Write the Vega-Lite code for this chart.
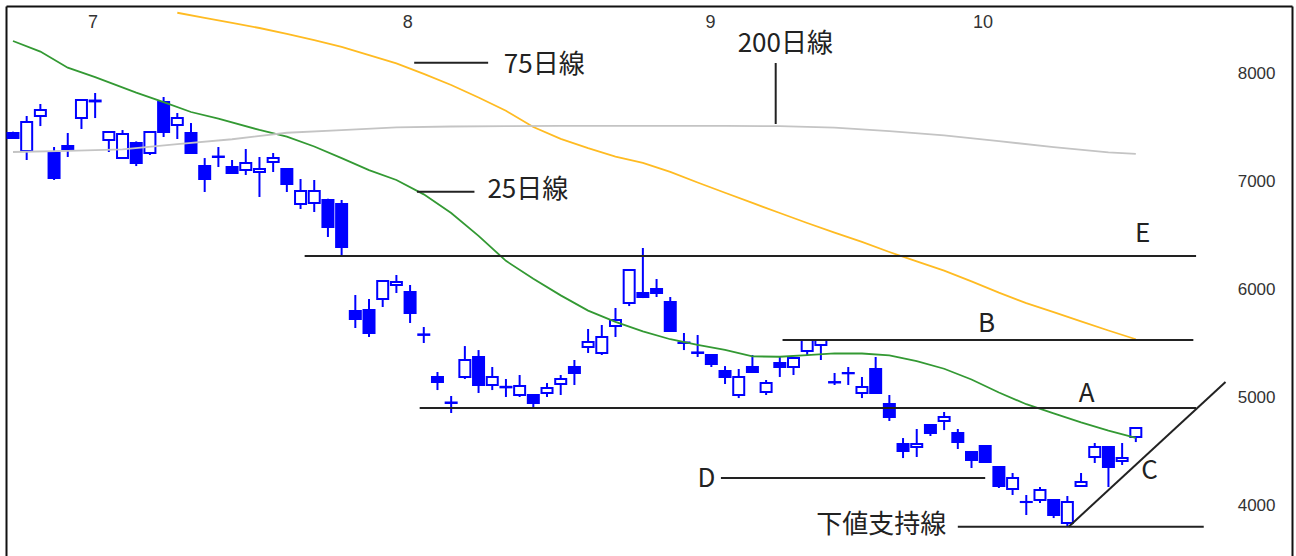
{
  "$schema": "https://vega.github.io/schema/vega-lite/v6.json",
  "width": 1286,
  "height": 550,
  "autosize": "none",
  "padding": {"left": 6, "top": 6, "right": 4, "bottom": 0},
  "background": "white",
  "config": {"view": {"stroke": null}, "axis": {"grid": false}},
  "datasets": {
    "candles": [
      {"i":0,"o":7448,"h":7460,"l":7395,"c":7401},
      {"i":1,"o":7281,"h":7605,"l":7198,"c":7550},
      {"i":2,"o":7605,"h":7716,"l":7512,"c":7660},
      {"i":3,"o":7263,"h":7318,"l":7013,"c":7031},
      {"i":4,"o":7327,"h":7448,"l":7226,"c":7300},
      {"i":5,"o":7586,"h":7760,"l":7485,"c":7753},
      {"i":6,"o":7740,"h":7818,"l":7586,"c":7748},
      {"i":7,"o":7383,"h":7465,"l":7272,"c":7457},
      {"i":8,"o":7216,"h":7475,"l":7210,"c":7438},
      {"i":9,"o":7355,"h":7370,"l":7142,"c":7170},
      {"i":10,"o":7263,"h":7465,"l":7244,"c":7457},
      {"i":11,"o":7734,"h":7781,"l":7411,"c":7457},
      {"i":12,"o":7522,"h":7633,"l":7392,"c":7586},
      {"i":13,"o":7448,"h":7540,"l":7255,"c":7263},
      {"i":14,"o":7142,"h":7216,"l":6902,"c":7022},
      {"i":15,"o":7230,"h":7318,"l":7133,"c":7226},
      {"i":16,"o":7133,"h":7198,"l":7070,"c":7078},
      {"i":17,"o":7105,"h":7300,"l":7059,"c":7170},
      {"i":18,"o":7087,"h":7226,"l":6856,"c":7115},
      {"i":19,"o":7179,"h":7263,"l":7087,"c":7216},
      {"i":20,"o":7115,"h":7120,"l":6902,"c":6976},
      {"i":21,"o":6791,"h":7022,"l":6745,"c":6911},
      {"i":22,"o":6800,"h":7013,"l":6717,"c":6911},
      {"i":23,"o":6828,"h":6840,"l":6486,"c":6578},
      {"i":24,"o":6791,"h":6828,"l":6319,"c":6393},
      {"i":25,"o":5801,"h":5949,"l":5644,"c":5727},
      {"i":26,"o":5810,"h":5912,"l":5561,"c":5598},
      {"i":27,"o":5912,"h":6085,"l":5838,"c":6079},
      {"i":28,"o":6042,"h":6134,"l":5968,"c":6070},
      {"i":29,"o":5977,"h":6042,"l":5690,"c":5783},
      {"i":30,"o":5585,"h":5653,"l":5505,"c":5580},
      {"i":31,"o":5191,"h":5237,"l":5070,"c":5144},
      {"i":32,"o":4955,"h":5015,"l":4858,"c":4950},
      {"i":33,"o":5191,"h":5477,"l":5172,"c":5348},
      {"i":34,"o":5376,"h":5440,"l":5043,"c":5117},
      {"i":35,"o":5117,"h":5283,"l":5070,"c":5191},
      {"i":36,"o":5095,"h":5172,"l":5006,"c":5100},
      {"i":37,"o":5024,"h":5209,"l":5006,"c":5107},
      {"i":38,"o":5024,"h":5030,"l":4913,"c":4950},
      {"i":39,"o":5043,"h":5135,"l":5006,"c":5089},
      {"i":40,"o":5126,"h":5209,"l":5024,"c":5172},
      {"i":41,"o":5283,"h":5348,"l":5117,"c":5228},
      {"i":42,"o":5468,"h":5635,"l":5413,"c":5514},
      {"i":43,"o":5413,"h":5672,"l":5394,"c":5561},
      {"i":44,"o":5662,"h":5829,"l":5561,"c":5718},
      {"i":45,"o":5875,"h":6185,"l":5847,"c":6180},
      {"i":46,"o":5968,"h":6384,"l":5921,"c":5931},
      {"i":47,"o":6005,"h":6097,"l":5931,"c":5968},
      {"i":48,"o":5884,"h":5931,"l":5610,"c":5616},
      {"i":49,"o":5510,"h":5598,"l":5440,"c":5505},
      {"i":50,"o":5418,"h":5579,"l":5376,"c":5413},
      {"i":51,"o":5394,"h":5400,"l":5283,"c":5311},
      {"i":52,"o":5246,"h":5292,"l":5126,"c":5191},
      {"i":53,"o":5024,"h":5265,"l":4996,"c":5191},
      {"i":54,"o":5283,"h":5394,"l":5228,"c":5237},
      {"i":55,"o":5052,"h":5163,"l":5024,"c":5135},
      {"i":56,"o":5320,"h":5376,"l":5191,"c":5283},
      {"i":57,"o":5283,"h":5372,"l":5209,"c":5366},
      {"i":58,"o":5431,"h":5540,"l":5385,"c":5533},
      {"i":59,"o":5487,"h":5540,"l":5348,"c":5533},
      {"i":60,"o":5140,"h":5228,"l":5117,"c":5144},
      {"i":61,"o":5225,"h":5283,"l":5117,"c":5228},
      {"i":62,"o":5043,"h":5191,"l":4996,"c":5098},
      {"i":63,"o":5265,"h":5376,"l":5040,"c":5043},
      {"i":64,"o":4941,"h":5024,"l":4784,"c":4821},
      {"i":65,"o":4571,"h":4626,"l":4441,"c":4506},
      {"i":66,"o":4543,"h":4710,"l":4451,"c":4571},
      {"i":67,"o":4747,"h":4756,"l":4645,"c":4673},
      {"i":68,"o":4784,"h":4867,"l":4700,"c":4821},
      {"i":69,"o":4673,"h":4710,"l":4525,"c":4589},
      {"i":70,"o":4497,"h":4505,"l":4349,"c":4423},
      {"i":71,"o":4552,"h":4560,"l":4395,"c":4404},
      {"i":72,"o":4358,"h":4365,"l":4164,"c":4182},
      {"i":73,"o":4155,"h":4303,"l":4099,"c":4256},
      {"i":74,"o":4035,"h":4099,"l":3914,"c":4034},
      {"i":75,"o":4053,"h":4173,"l":4025,"c":4145},
      {"i":76,"o":4053,"h":4060,"l":3886,"c":3914},
      {"i":77,"o":3840,"h":4090,"l":3803,"c":4034},
      {"i":78,"o":4182,"h":4303,"l":4173,"c":4219},
      {"i":79,"o":4451,"h":4580,"l":4395,"c":4543},
      {"i":80,"o":4543,"h":4550,"l":4173,"c":4358},
      {"i":81,"o":4414,"h":4580,"l":4377,"c":4441},
      {"i":82,"o":4636,"h":4725,"l":4589,"c":4719}
    ],
    "ma": [
      {"s":"25","i":0,"v":8299},{"s":"25","i":2,"v":8201},{"s":"25","i":4,"v":8052},{"s":"25","i":6,"v":7964},
      {"s":"25","i":9,"v":7821},{"s":"25","i":11,"v":7734},{"s":"25","i":13,"v":7642},{"s":"25","i":15,"v":7580},
      {"s":"25","i":18,"v":7476},{"s":"25","i":20,"v":7415},{"s":"25","i":22,"v":7323},{"s":"25","i":24,"v":7215},
      {"s":"25","i":26,"v":7105},{"s":"25","i":28,"v":7013},{"s":"25","i":30,"v":6880},{"s":"25","i":32,"v":6708},
      {"s":"25","i":34,"v":6496},{"s":"25","i":36,"v":6265},{"s":"25","i":38,"v":6100},{"s":"25","i":40,"v":5946},
      {"s":"25","i":42,"v":5805},{"s":"25","i":44,"v":5700},{"s":"25","i":46,"v":5613},{"s":"25","i":48,"v":5540},
      {"s":"25","i":50,"v":5487},{"s":"25","i":52,"v":5442},{"s":"25","i":54,"v":5382},{"s":"25","i":56,"v":5378},
      {"s":"25","i":58,"v":5394},{"s":"25","i":60,"v":5410},{"s":"25","i":62,"v":5408},{"s":"25","i":64,"v":5390},
      {"s":"25","i":66,"v":5338},{"s":"25","i":68,"v":5267},{"s":"25","i":70,"v":5168},{"s":"25","i":72,"v":5047},
      {"s":"25","i":74,"v":4939},{"s":"25","i":76,"v":4855},{"s":"25","i":78,"v":4771},{"s":"25","i":80,"v":4694},
      {"s":"25","i":82,"v":4627},
      {"s":"75","i":12,"v":8560},{"s":"75","i":14,"v":8513},{"s":"75","i":16,"v":8466},{"s":"75","i":18,"v":8419},
      {"s":"75","i":20,"v":8365},{"s":"75","i":22,"v":8307},{"s":"75","i":24,"v":8245},{"s":"75","i":26,"v":8169},
      {"s":"75","i":28,"v":8092},{"s":"75","i":30,"v":7995},{"s":"75","i":32,"v":7892},{"s":"75","i":34,"v":7776},
      {"s":"75","i":36,"v":7653},{"s":"75","i":38,"v":7503},{"s":"75","i":40,"v":7393},{"s":"75","i":42,"v":7307},
      {"s":"75","i":44,"v":7230},{"s":"75","i":46,"v":7172},{"s":"75","i":48,"v":7088},{"s":"75","i":50,"v":6990},
      {"s":"75","i":52,"v":6895},{"s":"75","i":54,"v":6801},{"s":"75","i":56,"v":6708},{"s":"75","i":58,"v":6615},
      {"s":"75","i":60,"v":6527},{"s":"75","i":62,"v":6440},{"s":"75","i":64,"v":6347},{"s":"75","i":66,"v":6260},
      {"s":"75","i":68,"v":6174},{"s":"75","i":70,"v":6075},{"s":"75","i":72,"v":5971},{"s":"75","i":74,"v":5874},
      {"s":"75","i":76,"v":5790},{"s":"75","i":78,"v":5706},{"s":"75","i":80,"v":5621},{"s":"75","i":82,"v":5540},
      {"s":"200","i":0,"v":7272},{"s":"200","i":4,"v":7283},{"s":"200","i":8,"v":7297},{"s":"200","i":12,"v":7345},
      {"s":"200","i":16,"v":7390},{"s":"200","i":20,"v":7450},{"s":"200","i":24,"v":7475},{"s":"200","i":28,"v":7500},
      {"s":"200","i":32,"v":7508},{"s":"200","i":36,"v":7512},{"s":"200","i":40,"v":7514},{"s":"200","i":44,"v":7514},
      {"s":"200","i":48,"v":7514},{"s":"200","i":52,"v":7514},{"s":"200","i":56,"v":7511},{"s":"200","i":60,"v":7497},
      {"s":"200","i":64,"v":7465},{"s":"200","i":68,"v":7425},{"s":"200","i":72,"v":7372},{"s":"200","i":76,"v":7318},
      {"s":"200","i":80,"v":7268},{"s":"200","i":82,"v":7254}
    ],
    "rules": [
      {"name":"E","i":21.3,"x2":86.4,"y":6310,"y2":6310},
      {"name":"B","i":56.2,"x2":86.2,"y":5533,"y2":5533},
      {"name":"A","i":29.7,"x2":86.4,"y":4904,"y2":4904},
      {"name":"D","i":51.7,"x2":71.0,"y":4257,"y2":4257},
      {"name":"support","i":69.0,"x2":86.96,"y":3806,"y2":3806},
      {"name":"C","i":77.1,"x2":88.55,"y":3806,"y2":5145},
      {"name":"75lead","i":29.3,"x2":34.7,"y":8098,"y2":8098},
      {"name":"25lead","i":29.5,"x2":33.7,"y":6905,"y2":6905},
      {"name":"200lead","i":55.7,"x2":55.7,"y":8095,"y2":7531}
    ],
    "labels": [
      {"t":"75日線","i":38.8,"v":8077},
      {"t":"25日線","i":37.6,"v":6920},
      {"t":"200日線","i":56.4,"v":8271},
      {"t":"E","i":82.5,"v":6513},
      {"t":"B","i":71.1,"v":5681},
      {"t":"A","i":78.4,"v":5038},
      {"t":"C","i":83.0,"v":4321},
      {"t":"D","i":50.65,"v":4247},
      {"t":"下値支持線","i":63.4,"v":3822}
    ]
  },
  "encoding": {
    "x": {"field": "i", "type": "quantitative",
      "scale": {"domain": [-0.145, 93.04], "nice": false, "zero": false},
      "axis": {"orient": "top", "title": null, "values": [5.8, 28.8, 50.9, 70.8],
        "labelExpr": "datum.value < 10 ? '7' : datum.value < 40 ? '8' : datum.value < 60 ? '9' : '10'",
        "ticks": false, "domain": true, "domainColor": "#111", "domainWidth": 2,
        "labelPadding": -16, "labelBaseline": "middle", "labelFont": "Liberation Sans",
        "labelFontSize": 18, "labelColor": "#333"}}
  },
  "layer": [
    {
      "data": {"name": "candles"},
      "mark": {"type": "rule", "color": "#0000ff", "strokeWidth": 2, "clip": true},
      "encoding": {
        "y": {"field": "l", "type": "quantitative",
          "scale": {"domain": [3535, 8622.5], "nice": false, "zero": false},
          "axis": {"orient": "left", "title": null, "labels": false, "ticks": false,
            "domain": true, "domainColor": "#111", "domainWidth": 2}},
        "y2": {"field": "h"}
      }
    },
    {
      "data": {"name": "candles"},
      "mark": {"type": "bar", "width": 11, "stroke": "#0000ff", "strokeWidth": 2, "clip": true},
      "encoding": {
        "y": {"field": "o", "type": "quantitative",
          "axis": {"orient": "right", "title": null, "values": [4000, 5000, 6000, 7000, 8000], "format": "d",
            "ticks": false, "domain": true, "domainColor": "#111", "domainWidth": 2,
            "labelPadding": -17, "labelAlign": "right", "labelBaseline": "middle",
            "labelFont": "Liberation Sans", "labelFontSize": 17, "labelColor": "#333"}},
        "y2": {"field": "c"},
        "fill": {"condition": {"test": "datum.c > datum.o", "value": "white"}, "value": "#0000ff"}
      }
    },
    {
      "data": {"name": "ma"},
      "mark": {"type": "line", "strokeWidth": 1.8, "clip": true},
      "encoding": {
        "y": {"field": "v", "type": "quantitative", "axis": null},
        "color": {"field": "s", "type": "nominal",
          "scale": {"domain": ["25", "75", "200"], "range": ["#339933", "#ffbb22", "#c4c4c4"]},
          "legend": null}
      }
    },
    {
      "data": {"name": "rules"},
      "mark": {"type": "rule", "color": "#222", "strokeWidth": 2},
      "encoding": {
        "x2": {"field": "x2"},
        "y": {"field": "y", "type": "quantitative", "axis": null},
        "y2": {"field": "y2"}
      }
    },
    {
      "data": {"name": "labels"},
      "mark": {"type": "text", "font": "Noto Sans CJK JP", "fontSize": 26, "color": "#222",
        "align": "center", "baseline": "middle"},
      "encoding": {
        "y": {"field": "v", "type": "quantitative", "axis": null},
        "text": {"field": "t"}
      }
    }
  ]
}
